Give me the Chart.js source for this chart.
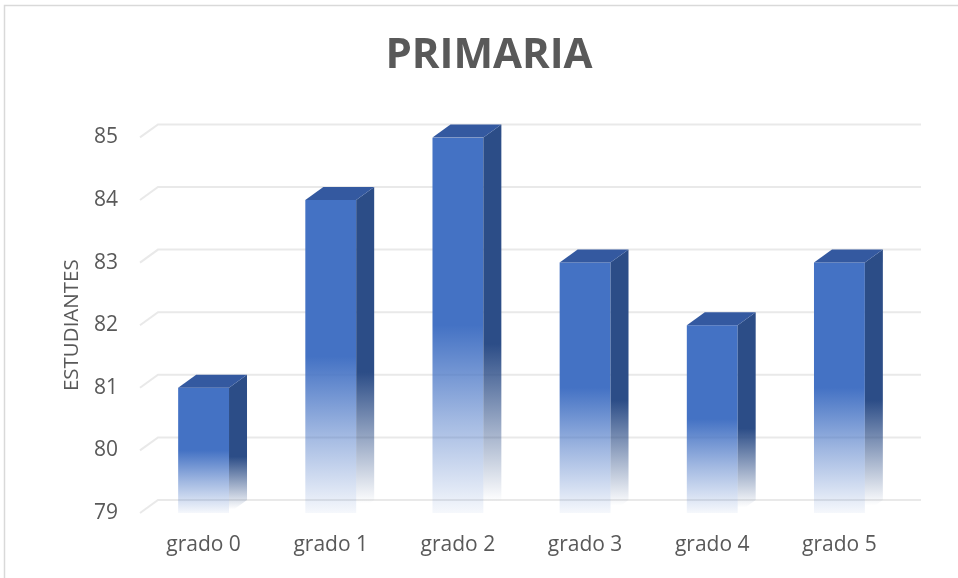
<!DOCTYPE html>
<html>
<head>
<meta charset="utf-8">
<script src="https://cdn.jsdelivr.net/npm/chart.js@4/dist/chart.umd.min.js"></script>
<style>
  html, body { margin: 0; padding: 0; background: #ffffff; }
  #wrap { width: 958px; height: 578px; position: relative; }
</style>
</head>
<body>
<div id="wrap"><canvas id="c" width="958" height="578"></canvas></div>
<script>
const categories = ['grado 0', 'grado 1', 'grado 2', 'grado 3', 'grado 4', 'grado 5'];
const estudiantes = [81, 84, 85, 83, 82, 83];
const yTicks = [79, 80, 81, 82, 83, 84, 85];
const chartTitle = 'PRIMARIA';
const yTitle = 'ESTUDIANTES';

const DEPTH_X = 18, DEPTH_Y = -13;
const FRONT = '#4472C4';

function frontGradient(ctx) {
  const chart = ctx.chart;
  const ca = chart.chartArea;
  if (!ca || ctx.raw === undefined) return FRONT;
  const y = chart.scales.y;
  const top = y.getPixelForValue(ctx.raw);
  const bottom = y.getPixelForValue(y.min);
  if (!isFinite(top) || !isFinite(bottom)) return FRONT;
  const g = chart.ctx.createLinearGradient(0, top, 0, bottom);
  g.addColorStop(0, 'rgba(68,114,196,1)');
  g.addColorStop(0.5, 'rgba(68,114,196,1)');
  g.addColorStop(0.75, 'rgba(68,114,196,0.5)');
  g.addColorStop(1, 'rgba(68,114,196,0.05)');
  return g;
}

const framePlugin = {
  id: 'frame',
  beforeDraw(chart) {
    const c = chart.ctx;
    c.save();
    c.fillStyle = '#ffffff';
    c.fillRect(0, 0, chart.width, chart.height);
    c.strokeStyle = '#d9d9d9';
    c.lineWidth = 1.5;
    c.strokeRect(4.5, 5.5, chart.width + 10, chart.height + 10);
    c.restore();
  }
};

const gridPlugin = {
  id: 'grid3d',
  beforeDatasetsDraw(chart) {
    const c = chart.ctx;
    const ys = chart.scales.y;
    const ca = chart.chartArea;
    c.save();
    c.strokeStyle = '#e9e9e9';
    c.lineWidth = 2;
    ys.ticks.forEach(t => {
      const y = ys.getPixelForValue(t.value);
      c.beginPath();
      c.moveTo(ca.left, y);
      c.lineTo(ca.left + DEPTH_X, y + DEPTH_Y);
      c.lineTo(ca.right + DEPTH_X, y + DEPTH_Y);
      c.stroke();
    });
    c.restore();
  }
};

const bar3dPlugin = {
  id: 'bar3d',
  afterDatasetsDraw(chart) {
    const c = chart.ctx;
    const meta = chart.getDatasetMeta(0);
    const ys = chart.scales.y;
    const base = ys.getPixelForValue(ys.min);
    c.save();
    meta.data.forEach((el, i) => {
      const x = el.x, w = el.width;
      const top = ys.getPixelForValue(estudiantes[i]);
      const l = x - w / 2, r = x + w / 2;
      // side face
      const sg = c.createLinearGradient(0, top, 0, base);
      sg.addColorStop(0, 'rgba(44,77,135,1)');
      sg.addColorStop(0.55, 'rgba(44,77,135,1)');
      sg.addColorStop(0.8, 'rgba(44,77,135,0.4)');
      sg.addColorStop(0.97, 'rgba(44,77,135,0)');
      sg.addColorStop(1, 'rgba(44,77,135,0)');
      c.fillStyle = sg;
      c.beginPath();
      c.moveTo(r, top);
      c.lineTo(r + DEPTH_X, top + DEPTH_Y);
      c.lineTo(r + DEPTH_X, base + DEPTH_Y);
      c.lineTo(r, base);
      c.closePath();
      c.fill();
      // top face
      c.fillStyle = '#3459A0';
      c.beginPath();
      c.moveTo(l, top);
      c.lineTo(r, top);
      c.lineTo(r + DEPTH_X, top + DEPTH_Y);
      c.lineTo(l + DEPTH_X, top + DEPTH_Y);
      c.closePath();
      c.fill();
    });
    c.restore();
  }
};

new Chart(document.getElementById('c'), {
  type: 'bar',
  data: {
    labels: categories,
    datasets: [{
      label: yTitle,
      data: estudiantes,
      backgroundColor: frontGradient,
      borderWidth: 0,
      barPercentage: 0.8,
      categoryPercentage: 0.5
    }]
  },
  options: {
    responsive: false,
    animation: false,
    events: [],
    layout: { padding: { left: 75, right: 55, top: 0, bottom: 5 } },
    plugins: {
      legend: { display: false },
      tooltip: { enabled: false },
      title: {
        display: true,
        text: chartTitle,
        color: '#595959',
        font: { family: 'Open Sans', size: 42, weight: 'bold', lineHeight: 1.2 },
        padding: { top: 31, bottom: 56 }
      }
    },
    scales: {
      x: {
        grid: { display: false, drawTicks: false },
        border: { display: false },
        ticks: {
          color: '#595959',
          font: { family: 'Open Sans', size: 21 },
          padding: 19,
          maxRotation: 0
        },
        afterFit(s) { s.height = 60; }
      },
      y: {
        min: yTicks[0],
        max: yTicks[yTicks.length - 1],
        grid: { display: false, drawTicks: false },
        border: { display: false },
        afterBuildTicks(s) { s.ticks = yTicks.map(v => ({ value: v })); },
        ticks: {
          color: '#595959',
          font: { family: 'Open Sans', size: 21 },
          padding: 22
        },
        title: {
          display: true,
          text: yTitle,
          color: '#595959',
          font: { family: 'Open Sans', size: 20.5, lineHeight: 1.2 },
          padding: { top: -15.3, bottom: 0 }
        },
        afterFit(s) { s.width = 65; }
      }
    }
  },
  plugins: [framePlugin, gridPlugin, bar3dPlugin]
});
</script>
</body>
</html>
